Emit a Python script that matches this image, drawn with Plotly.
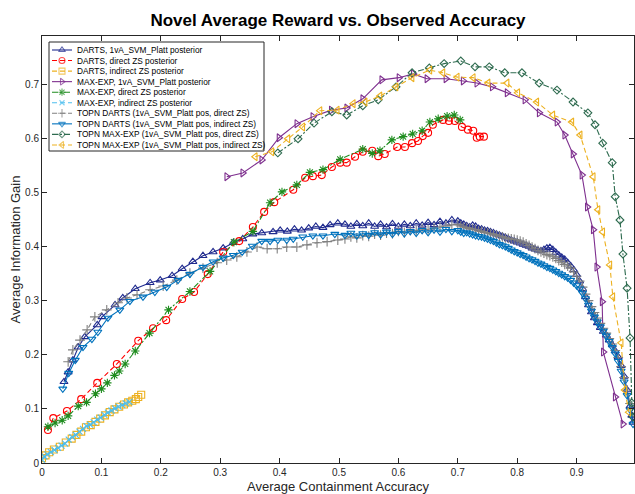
import plotly.graph_objects as go

# ---------------- data ----------------
darts_1va_x = [0.037,0.044,0.052,0.061,0.072,0.093,0.101,0.123,0.136,0.157,0.182,0.199,0.219,0.236,0.254,0.271,0.288,0.305,0.322,0.338,0.355,0.370,0.389,0.401,0.413,0.425,0.437,0.449,0.461,0.473,0.485,0.498,
               0.51,0.52,0.53,0.54,0.55,0.56,0.57,0.58,0.59,0.60,0.61,0.62,0.63,0.64,0.65,0.66,0.67,0.68,0.69,
               0.700,0.705,0.710,0.715,0.720,0.725,0.730,0.735,0.740,0.745,0.750,0.755,0.760,0.765,0.770,0.775,0.780,0.785,0.790,0.795,0.800,0.805,0.810,0.815,0.820,0.825,0.830,0.835,0.840,0.845,
               0.850,0.855,0.860,0.865,0.870,0.875,0.880,0.885,0.890,0.895,0.900,0.905,0.910,0.915,0.920,0.925,0.930,0.935,0.940,0.945,0.950,0.955,0.960,0.965,0.970,0.975,0.980,0.985,0.990,0.993,0.995]
darts_1va_y = [0.150,0.168,0.190,0.214,0.233,0.255,0.270,0.292,0.305,0.322,0.333,0.338,0.346,0.359,0.372,0.383,0.390,0.397,0.407,0.414,0.423,0.425,0.427,0.430,0.428,0.432,0.430,0.434,0.437,0.435,0.440,0.443,
               0.441,0.437,0.442,0.438,0.443,0.437,0.441,0.436,0.442,0.437,0.441,0.438,0.443,0.439,0.444,0.440,0.446,0.443,0.449,
               0.447,0.443,0.441,0.438,0.436,0.439,0.437,0.433,0.432,0.430,0.429,0.427,0.425,0.423,0.421,0.419,0.417,0.414,0.412,0.410,0.408,0.406,0.404,0.402,0.400,0.397,0.395,0.393,0.392,0.394,
               0.397,0.398,0.394,0.389,0.384,0.380,0.376,0.370,0.364,0.357,0.348,0.336,0.322,0.307,0.292,0.279,0.268,0.259,0.250,0.243,0.236,0.227,0.218,0.207,0.196,0.180,0.160,0.135,0.105,0.088,0.075]

darts_direct_x = [0.010,0.019,0.042,0.066,0.093,0.126,0.162,0.187,0.209,0.236,0.256,0.279,0.305,0.332,0.355,0.374,0.391,0.423,0.443,0.456,0.471,0.488,0.502,0.513,0.527,0.540,0.556,0.566,0.577,0.598,0.611,0.623,0.633,0.641,0.650,0.658,0.675,0.685,0.695,0.707,0.717,0.726,0.732,0.737,0.744]
darts_direct_y = [0.061,0.083,0.096,0.118,0.148,0.183,0.226,0.249,0.264,0.303,0.316,0.349,0.390,0.410,0.436,0.464,0.482,0.505,0.527,0.530,0.532,0.547,0.555,0.555,0.566,0.575,0.577,0.567,0.571,0.584,0.584,0.591,0.595,0.604,0.610,0.625,0.634,0.632,0.632,0.621,0.616,0.614,0.601,0.603,0.603]

darts_indirect_x = [0.000,0.006,0.012,0.020,0.030,0.040,0.050,0.058,0.066,0.074,0.082,0.090,0.098,0.106,0.114,0.122,0.130,0.138,0.145,0.152,0.158,0.162,0.167]
darts_indirect_y = [0.009,0.014,0.020,0.025,0.030,0.038,0.045,0.052,0.058,0.066,0.070,0.076,0.082,0.088,0.094,0.099,0.104,0.108,0.112,0.115,0.118,0.122,0.126]

maxexp_1va_x = [0.311,0.338,0.370,0.399,0.429,0.456,0.487,0.513,0.540,0.572,0.601,0.625,0.648,0.680,0.709,0.732,0.758,0.783,0.813,0.837,0.867,0.880,0.894,0.909,0.918,0.928,0.934,0.943,0.945,0.965,0.978]
maxexp_1va_y = [0.529,0.536,0.560,0.601,0.627,0.640,0.652,0.656,0.673,0.708,0.712,0.719,0.710,0.710,0.706,0.702,0.695,0.684,0.671,0.647,0.630,0.606,0.571,0.532,0.473,0.431,0.362,0.298,0.205,0.122,0.072]

maxexp_direct_x = [0.010,0.022,0.034,0.044,0.061,0.075,0.090,0.100,0.110,0.122,0.130,0.140,0.157,0.181,0.213,0.249,0.283,0.323,0.355,0.384,0.404,0.429,0.451,0.473,0.502,0.540,0.556,0.569,0.589,0.608,0.624,0.640,0.653,0.667,0.682,0.694,0.704]
maxexp_direct_y = [0.067,0.074,0.079,0.087,0.105,0.112,0.128,0.137,0.148,0.162,0.170,0.183,0.207,0.240,0.283,0.317,0.354,0.408,0.428,0.481,0.501,0.514,0.537,0.542,0.561,0.580,0.572,0.577,0.597,0.603,0.608,0.614,0.630,0.636,0.641,0.643,0.634]

maxexp_indirect_x = [0.000,0.004,0.009,0.015,0.021,0.027,0.033,0.039,0.045,0.051,0.057,0.063,0.069,0.075,0.081,0.087,0.093,0.099,0.105,0.111,0.117,0.123,0.129,0.135,0.141,0.147]
maxexp_indirect_y = [0.006,0.012,0.016,0.020,0.024,0.028,0.032,0.036,0.043,0.048,0.052,0.058,0.063,0.068,0.071,0.075,0.080,0.084,0.089,0.093,0.097,0.101,0.104,0.107,0.110,0.113]

topn_darts_direct_x = [0.044,0.052,0.064,0.076,0.089,0.109,0.128,0.143,0.160,0.182,0.204,0.227,0.249,0.271,0.295,0.311,0.328,0.345,0.362,0.379,0.396,0.412,0.429,0.446,0.463,0.480,0.498,
                       0.51,0.52,0.53,0.54,0.55,0.56,0.57,0.58,0.59,0.60,0.61,0.62,0.63,0.64,0.65,0.66,0.67,0.68,0.69,
                       0.700,0.705,0.710,0.715,0.720,0.725,0.730,0.735,0.740,0.745,0.750,0.755,0.760,0.765,0.770,0.775,0.780,0.785,0.790,0.795,0.800,0.805,0.810,0.815,0.820,0.825,0.830,0.835,0.840,0.845,
                       0.850,0.855,0.860,0.865,0.870,0.875,0.880,0.885,0.890,0.895,0.900,0.905,0.910,0.915,0.920,0.925,0.930,0.935,0.940,0.945,0.950,0.955,0.960,0.965,0.970,0.975,0.980,0.985,0.990]
topn_darts_direct_y = [0.187,0.209,0.227,0.246,0.270,0.283,0.296,0.305,0.311,0.320,0.327,0.338,0.351,0.360,0.370,0.375,0.381,0.390,0.399,0.396,0.396,0.399,0.399,0.403,0.407,0.409,0.412,
                       0.414,0.418,0.416,0.420,0.419,0.423,0.421,0.425,0.424,0.428,0.426,0.430,0.429,0.432,0.431,0.434,0.436,0.438,0.440,
                       0.441,0.438,0.436,0.435,0.433,0.432,0.431,0.429,0.428,0.426,0.425,0.424,0.422,0.421,0.419,0.418,0.416,0.415,0.414,0.413,0.412,0.410,0.408,0.405,0.402,0.399,0.396,0.393,0.390,0.388,
                       0.385,0.383,0.381,0.378,0.374,0.371,0.367,0.364,0.360,0.353,0.345,0.336,0.325,0.312,0.300,0.289,0.278,0.268,0.258,0.249,0.240,0.230,0.220,0.208,0.195,0.178,0.158,0.135,0.110]

topn_darts_indirect_x = [0.035,0.045,0.056,0.069,0.084,0.094,0.111,0.131,0.148,0.170,0.190,0.210,0.229,0.249,0.271,0.288,0.305,0.322,0.337,0.354,0.370,0.384,0.397,0.412,0.423,0.439,0.456,0.473,0.493,
                         0.51,0.52,0.53,0.54,0.55,0.56,0.57,0.58,0.59,0.60,0.61,0.62,0.63,0.64,0.65,0.66,0.67,0.68,0.69,
                         0.700,0.705,0.710,0.715,0.720,0.725,0.730,0.735,0.740,0.745,0.750,0.755,0.760,0.765,0.770,0.775,0.780,0.785,0.790,0.795,0.800,0.805,0.810,0.815,0.820,0.825,0.830,0.835,0.840,0.845,
                         0.850,0.855,0.860,0.865,0.870,0.875,0.880,0.885,0.890,0.895,0.900,0.905,0.910,0.915,0.920,0.925,0.930,0.935,0.940,0.945,0.950,0.955,0.960,0.965,0.970,0.975,0.980,0.985,0.990,0.995]
topn_darts_indirect_y = [0.137,0.166,0.190,0.214,0.229,0.242,0.268,0.283,0.299,0.307,0.316,0.325,0.338,0.349,0.362,0.372,0.379,0.384,0.390,0.401,0.410,0.410,0.412,0.412,0.414,0.418,0.420,0.420,0.423,
                         0.421,0.425,0.420,0.424,0.421,0.426,0.422,0.427,0.423,0.428,0.424,0.428,0.425,0.430,0.426,0.431,0.427,0.432,0.428,
                         0.430,0.427,0.425,0.426,0.424,0.422,0.420,0.419,0.418,0.416,0.414,0.412,0.410,0.407,0.404,0.402,0.400,0.397,0.394,0.391,0.389,0.386,0.384,0.381,0.378,0.376,0.373,0.370,0.368,0.365,
                         0.362,0.360,0.357,0.354,0.351,0.348,0.345,0.342,0.338,0.333,0.328,0.322,0.314,0.304,0.292,0.281,0.270,0.261,0.252,0.244,0.235,0.225,0.214,0.202,0.188,0.170,0.150,0.125,0.098,0.072]

topn_maxexp_direct_x = [0.397,0.431,0.458,0.488,0.513,0.540,0.566,0.596,0.623,0.652,0.677,0.705,0.729,0.753,0.779,0.808,0.837,0.867,0.894,0.919,0.931,0.944,0.960,0.965,0.973,0.978,0.985,0.990,0.993,0.995]
topn_maxexp_direct_y = [0.573,0.599,0.628,0.649,0.643,0.660,0.671,0.695,0.721,0.730,0.738,0.743,0.732,0.732,0.721,0.721,0.702,0.689,0.667,0.647,0.625,0.591,0.555,0.492,0.449,0.386,0.323,0.231,0.111,0.085]

topn_maxexp_indirect_x = [0.359,0.387,0.414,0.439,0.468,0.497,0.524,0.544,0.569,0.596,0.623,0.653,0.675,0.699,0.726,0.751,0.783,0.801,0.833,0.860,0.892,0.906,0.928,0.936,0.944,0.956,0.961,0.975,0.981,0.988]
topn_maxexp_indirect_y = [0.566,0.575,0.599,0.621,0.651,0.652,0.664,0.667,0.678,0.695,0.712,0.726,0.721,0.713,0.712,0.702,0.702,0.684,0.667,0.643,0.630,0.606,0.529,0.468,0.427,0.366,0.307,0.222,0.135,0.094]

legend_names = [
    "DARTS, 1vA_SVM_Platt posterior",
    "DARTS, direct ZS posterior",
    "DARTS, indirect ZS posterior",
    "MAX-EXP, 1vA_SVM_Platt posterior",
    "MAX-EXP, direct ZS posterior",
    "MAX-EXP, indirect ZS posterior",
    "TOPN DARTS (1vA_SVM_Platt pos, direct ZS)",
    "TOPN DARTS (1vA_SVM_Platt pos, indirect ZS)",
    "TOPN MAX-EXP (1vA_SVM_Platt pos, direct ZS)",
    "TOPN MAX-EXP (1vA_SVM_Platt pos, indirect ZS)",
]
x_ticks = [0, 0.1, 0.2, 0.3, 0.4, 0.5, 0.6, 0.7, 0.8, 0.9, 1]
x_tick_labels = ["0", "0.1", "0.2", "0.3", "0.4", "0.5", "0.6", "0.7", "0.8", "0.9", "1"]
y_ticks = [0, 0.1, 0.2, 0.3, 0.4, 0.5, 0.6, 0.7]
y_tick_labels = ["0", "0.1", "0.2", "0.3", "0.4", "0.5", "0.6", "0.7"]

# ---------------- styles ----------------
DASH = "5px,3px"
DASHDOT = "6px,2px,2px,2px"
styles = [
    dict(color="#1f2a8e", dash="solid", symbol="triangle-up-open", size=7),
    dict(color="#ff0000", dash=DASH, symbol="circle-open", size=7),
    dict(color="#edb120", dash=DASH, symbol="square-open", size=7),
    dict(color="#7e2f8e", dash="solid", symbol="triangle-right-open", size=7),
    dict(color="#1e8c1e", dash=DASHDOT, symbol="asterisk-open", size=7),
    dict(color="#4dbeee", dash=DASH, symbol="x-thin-open", size=6),
    dict(color="#808080", dash=DASH, symbol="cross-thin-open", size=7),
    dict(color="#0072bd", dash="solid", symbol="triangle-down-open", size=7),
    dict(color="#2e6b4f", dash=DASHDOT, symbol="diamond-open", size=6),
    dict(color="#edb120", dash=DASH, symbol="triangle-left-open", size=7),
]
series = [
    (darts_1va_x, darts_1va_y),
    (darts_direct_x, darts_direct_y),
    (darts_indirect_x, darts_indirect_y),
    (maxexp_1va_x, maxexp_1va_y),
    (maxexp_direct_x, maxexp_direct_y),
    (maxexp_indirect_x, maxexp_indirect_y),
    (topn_darts_direct_x, topn_darts_direct_y),
    (topn_darts_indirect_x, topn_darts_indirect_y),
    (topn_maxexp_direct_x, topn_maxexp_direct_y),
    (topn_maxexp_indirect_x, topn_maxexp_indirect_y),
]

# page / plot-area geometry (pixels)
W, H = 635, 494
ML, MR, MT, MB = 42, 1, 36, 31
PW, PH = W - ML - MR, H - MT - MB
X_UNIT_PX = 594  # pixels per 1.0 on the x axis


def fx(px):  # pixel -> plot-area fraction (horizontal)
    return (px - ML) / PW


def fy(py):  # pixel -> plot-area fraction (vertical)
    return (H - MB - py) / PH


fig = go.Figure()
for name, (xs, ys), st in zip(legend_names, series, styles):
    fig.add_trace(go.Scatter(
        x=xs, y=ys, name=name, mode="lines+markers", showlegend=False,
        line=dict(color=st["color"], width=1.1, dash=st["dash"]),
        marker=dict(symbol=st["symbol"], size=st["size"], color=st["color"],
                    line=dict(color=st["color"], width=1.1)),
    ))

# ---- compact legend (MATLAB-like) drawn on an overlay axis in plot-area fractions ----
LX0, LX1, LY0, LY1 = 49, 264, 42, 151
fig.add_trace(go.Scatter(
    x=[fx(LX0), fx(LX1), fx(LX1), fx(LX0), fx(LX0)],
    y=[fy(LY0), fy(LY0), fy(LY1), fy(LY1), fy(LY0)],
    mode="lines", fill="toself", fillcolor="white",
    line=dict(color="#262626", width=1), xaxis="x2", yaxis="y2",
    showlegend=False, hoverinfo="skip",
))
annotations = []
for i, (name, st) in enumerate(zip(legend_names, styles)):
    py = 50 + 10.55 * i
    fig.add_trace(go.Scatter(
        x=[fx(52), fx(62), fx(72)], y=[fy(py)] * 3,
        mode="lines+markers", xaxis="x2", yaxis="y2", showlegend=False, hoverinfo="skip",
        line=dict(color=st["color"], width=1.1, dash=st["dash"]),
        marker=dict(symbol=st["symbol"], size=[0, st["size"] - 1, 0], color=st["color"],
                    line=dict(color=st["color"], width=1.1)),
    ))
    annotations.append(dict(
        x=fx(75), y=fy(py), xref="paper", yref="paper", text=name, showarrow=False,
        xanchor="left", yanchor="middle",
        font=dict(size=8.3, color="#000000"),
    ))

FONT = "Liberation Sans, Arial, Helvetica, sans-serif"
AX = "#262626"
axis_common = dict(
    showline=True, linecolor=AX, linewidth=1, mirror="ticks",
    ticks="inside", ticklen=5, tickcolor=AX, tickwidth=1,
    showgrid=False, zeroline=False,
    tickfont=dict(size=10, color=AX, family=FONT),
)
fig.update_layout(
    width=W, height=H,
    margin=dict(l=ML, r=MR, t=MT, b=MB, autoexpand=False),
    paper_bgcolor="white", plot_bgcolor="white",
    font=dict(family=FONT, color=AX),
    hovermode=False,
    title=dict(text="<b>Novel Average Reward vs. Observed Accuracy</b>",
               x=(ML + W - MR) / 2 / W, xanchor="center", y=1 - 20 / H, yanchor="middle",
               font=dict(size=17, color="#000000", family=FONT)),
    xaxis=dict(range=[0, PW / X_UNIT_PX], tickvals=x_ticks, ticktext=x_tick_labels,
               title=dict(text="Average Containment Accuracy", font=dict(size=13, color=AX), standoff=4),
               **axis_common),
    yaxis=dict(range=[0, 0.789], tickvals=y_ticks, ticktext=y_tick_labels,
               title=dict(text="Average Information Gain", font=dict(size=13, color=AX), standoff=1),
               **axis_common),
    xaxis2=dict(overlaying="x", range=[0, 1], visible=False, fixedrange=True),
    yaxis2=dict(overlaying="y", range=[0, 1], visible=False, fixedrange=True),
    annotations=annotations,
    showlegend=False,
)
fig.write_html("out.html", config={"displayModeBar": False},
               post_script="document.body.style.margin='0';document.body.style.overflow='hidden';")
